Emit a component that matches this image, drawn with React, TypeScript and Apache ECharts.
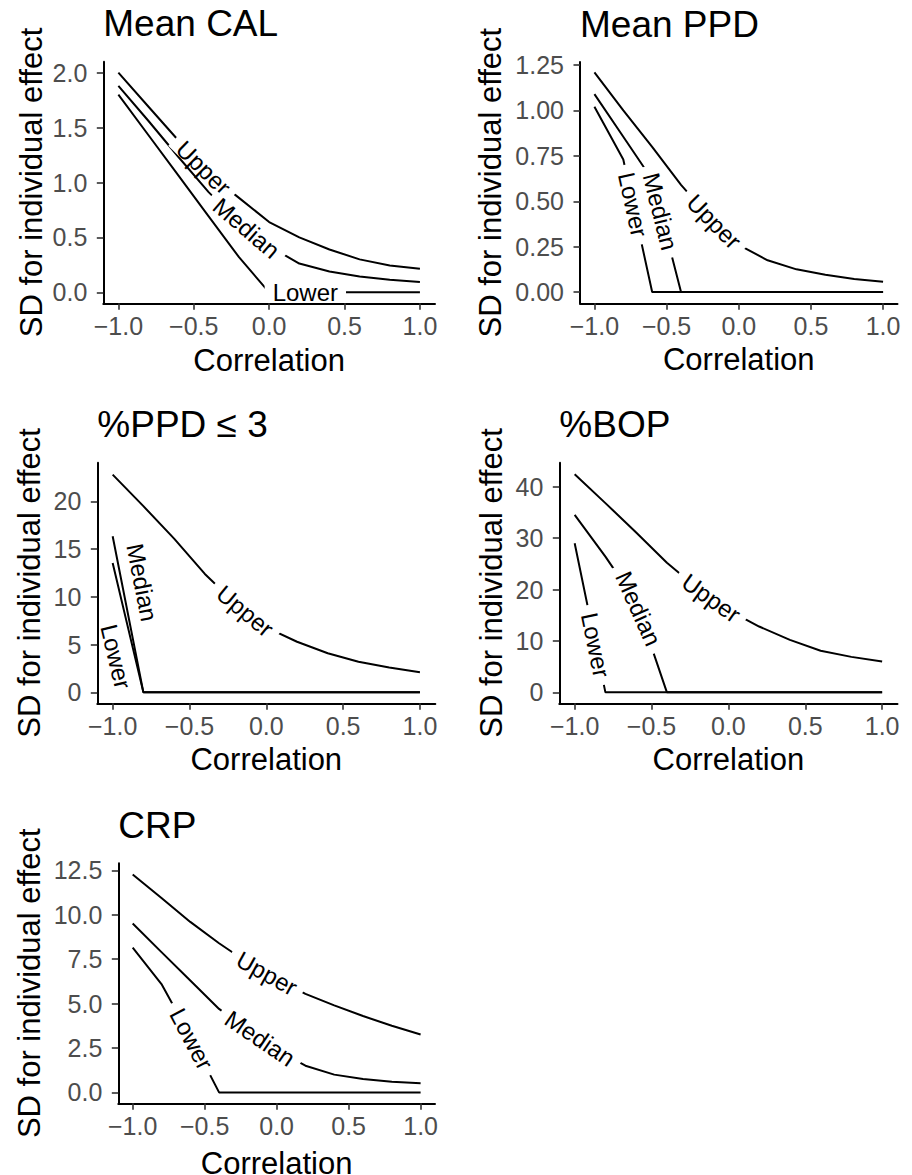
import React, { useEffect, useRef } from "react";
import * as echarts from "echarts";

// ---------- data ----------
const correlation = [-1, -0.8, -0.6, -0.4, -0.2, 0, 0.2, 0.4, 0.6, 0.8, 1];
const xTicks = [-1, -0.5, 0, 0.5, 1];

// Mean CAL
const calUpper = [2.0, 1.69, 1.38, 1.08, 0.86, 0.64, 0.5, 0.39, 0.3, 0.245, 0.215];
const calMedian = [1.88, 1.56, 1.23, 0.91, 0.64, 0.42, 0.262, 0.19, 0.145, 0.115, 0.095];
const calLower = [1.8, 1.43, 1.06, 0.69, 0.32, 0, 0, 0, 0, 0, 0];
const calTicks = [0, 0.5, 1, 1.5, 2];

// Mean PPD
const ppdUpper = [1.21, 1.0, 0.8, 0.59, 0.41, 0.26, 0.175, 0.125, 0.095, 0.072, 0.057];
const ppdMedian = [1.09, 0.855, 0.62, 0, 0, 0, 0, 0, 0, 0, 0];
const ppdLower = [1.02, 0.73, 0, 0, 0, 0, 0, 0, 0, 0, 0];
const ppdTicks = [0, 0.25, 0.5, 0.75, 1, 1.25];

// %PPD <= 3
const p3Upper = [22.8, 19.5, 16.1, 12.4, 9.3, 6.8, 5.3, 4.1, 3.2, 2.6, 2.1];
const p3Median = [16.35, 0, 0, 0, 0, 0, 0, 0, 0, 0, 0];
const p3Lower = [13.55, 0, 0, 0, 0, 0, 0, 0, 0, 0, 0];
const p3Ticks = [0, 5, 10, 15, 20];

// %BOP
const bopUpper = [42.4, 36.8, 31.1, 25.2, 20.2, 16.0, 12.8, 10.2, 8.1, 6.9, 6.0];
const bopMedian = [34.5, 26.4, 17.6, 0, 0, 0, 0, 0, 0, 0, 0];
const bopLower = [29.0, 0, 0, 0, 0, 0, 0, 0, 0, 0, 0];
const bopTicks = [0, 10, 20, 30, 40];

// CRP
const crpUpper = [12.27, 10.95, 9.6, 8.4, 7.3, 6.4, 5.55, 4.9, 4.3, 3.75, 3.26];
const crpMedian = [9.51, 7.9, 6.3, 4.7, 3.5, 2.4, 1.5, 1.0, 0.75, 0.6, 0.52];
const crpLower = [8.15, 6.1, 3.15, 0, 0, 0, 0, 0, 0, 0, 0];
const crpTicks = [0, 2.5, 5, 7.5, 10, 12.5];

const lineNames = ["Upper", "Median", "Lower"];

// ---------- layout ----------
const FONT = "'Liberation Sans', Arial, Helvetica, sans-serif";

type LabelPos = { x: number; offset: number; bg: boolean };
type Panel = {
  title: string;
  lines: number[][];
  yTicks: number[];
  decimals: number;
  yMin: number;
  yMax: number;
  grid: { left: number; top: number; width: number; height: number };
  yTitleX: number;
  xTitleGap: number;
  labels: LabelPos[];
};

const panels: Panel[] = [
  {
    title: "Mean CAL",
    lines: [calUpper, calMedian, calLower],
    yTicks: calTicks,
    decimals: 1,
    yMin: -0.1,
    yMax: 2.1,
    grid: { left: 103.3, top: 61.7, width: 331.7, height: 241.6 },
    yTitleX: 31,
    xTitleGap: 57,
    labels: [
      { x: -0.435, offset: 0, bg: true },
      { x: -0.151, offset: 0, bg: true },
      { x: 0.24, offset: 0, bg: true },
    ],
  },
  {
    title: "Mean PPD",
    lines: [ppdUpper, ppdMedian, ppdLower],
    yTicks: ppdTicks,
    decimals: 2,
    yMin: -0.062,
    yMax: 1.267,
    grid: { left: 580, top: 62, width: 317.5, height: 241.3 },
    yTitleX: 490.5,
    xTitleGap: 56.5,
    labels: [
      { x: -0.171, offset: 0, bg: true },
      { x: -0.543, offset: 0, bg: true },
      { x: -0.732, offset: 0, bg: true },
    ],
  },
  {
    title: "%PPD \u2264 3",
    lines: [p3Upper, p3Median, p3Lower],
    yTicks: p3Ticks,
    decimals: 0,
    yMin: -1.145,
    yMax: 24.05,
    grid: { left: 97.3, top: 462.7, width: 338, height: 240.6 },
    yTitleX: 29.5,
    xTitleGap: 56.5,
    labels: [
      { x: -0.138, offset: 0, bg: true },
      { x: -0.936, offset: 20, bg: false },
      { x: -0.862, offset: -18.4, bg: false },
    ],
  },
  {
    title: "%BOP",
    lines: [bopUpper, bopMedian, bopLower],
    yTicks: bopTicks,
    decimals: 0,
    yMin: -2.13,
    yMax: 44.66,
    grid: { left: 559.3, top: 462.7, width: 338.2, height: 240.6 },
    yTitleX: 491,
    xTitleGap: 56.5,
    labels: [
      { x: -0.112, offset: 0, bg: true },
      { x: -0.585, offset: 0, bg: true },
      { x: -0.8635, offset: 0, bg: true },
    ],
  },
  {
    title: "CRP",
    lines: [crpUpper, crpMedian, crpLower],
    yTicks: crpTicks,
    decimals: 1,
    yMin: -0.615,
    yMax: 12.9,
    grid: { left: 118.3, top: 863.3, width: 316.7, height: 240 },
    yTitleX: 29.5,
    xTitleGap: 60,
    labels: [
      { x: -0.068, offset: 0, bg: true },
      { x: -0.116, offset: 0, bg: true },
      { x: -0.591, offset: 0, bg: true },
    ],
  },
];

const fmt = (v: number, d: number) => {
  const s = Math.abs(v).toFixed(d);
  return v < -1e-9 ? "\u2212" + s : s;
};

const interp = (xs: number[], ys: number[], x: number) => {
  for (let j = 0; j < xs.length - 1; j++) {
    if (x >= xs[j] && x <= xs[j + 1]) {
      const t = (x - xs[j]) / (xs[j + 1] - xs[j]);
      return { j, v: ys[j] + t * (ys[j + 1] - ys[j]) };
    }
  }
  return { j: xs.length - 2, v: ys[ys.length - 1] };
};

export default function App() {
  const ref = useRef<HTMLDivElement>(null);

  useEffect(() => {
    if (!ref.current) return;
    const chart = echarts.init(ref.current, undefined, { renderer: "svg" });

    const grids = panels.map((p) => ({ ...p.grid, containLabel: false }));
    const xAxes = panels.map((p, i) => ({
      type: "value",
      gridIndex: i,
      min: -1.1,
      max: 1.1,
      splitLine: { show: false },
      axisLine: { show: true, onZero: false, lineStyle: { color: "#000", width: 2 } },
      axisTick: {
        show: true,
        inside: false,
        length: 6.5,
        customValues: xTicks,
        lineStyle: { color: "#333", width: 1.6 },
      },
      axisLabel: {
        show: true,
        customValues: xTicks,
        margin: 10.5,
        fontSize: 25,
        lineHeight: 25,
        fontFamily: FONT,
        color: "#4D4D4D",
        formatter: (v: number) => fmt(v, 1),
      },
    }));
    const yAxes = panels.map((p, i) => ({
      type: "value",
      gridIndex: i,
      min: p.yMin,
      max: p.yMax,
      splitLine: { show: false },
      axisLine: { show: true, onZero: false, lineStyle: { color: "#000", width: 2 } },
      axisTick: {
        show: true,
        inside: false,
        length: 6.5,
        customValues: p.yTicks,
        lineStyle: { color: "#333", width: 1.6 },
      },
      axisLabel: {
        show: true,
        customValues: p.yTicks,
        margin: 16,
        fontSize: 25,
        lineHeight: 25,
        fontFamily: FONT,
        color: "#4D4D4D",
        formatter: (v: number) => fmt(v, p.decimals),
      },
    }));
    const series: any[] = [];
    panels.forEach((p, i) => {
      p.lines.forEach((ys, k) => {
        series.push({
          type: "line",
          name: lineNames[k] + i,
          xAxisIndex: i,
          yAxisIndex: i,
          data: correlation.map((c, j) => [c, ys[j]]),
          showSymbol: false,
          symbol: "none",
          silent: true,
          z: 2,
          lineStyle: { color: "#000", width: 2 },
        });
      });
    });

    chart.setOption({
      animation: false,
      backgroundColor: "#fff",
      grid: grids,
      xAxis: xAxes,
      yAxis: yAxes,
      series,
    });

    const elements: any[] = [];
    panels.forEach((p, i) => {
      const g = p.grid;
      // title
      elements.push({
        type: "text",
        x: g.left,
        y: g.top - 37.8,
        silent: true,
        style: {
          text: p.title,
          fontSize: 37,
          fontFamily: FONT,
          fill: "#000",
          align: "left",
          verticalAlign: "middle",
        },
      });
      // x title
      elements.push({
        type: "text",
        x: g.left + g.width / 2,
        y: g.top + g.height + p.xTitleGap,
        silent: true,
        style: {
          text: "Correlation",
          fontSize: 31,
          fontFamily: FONT,
          fill: "#000",
          align: "center",
          verticalAlign: "middle",
        },
      });
      // y title
      elements.push({
        type: "text",
        x: p.yTitleX,
        y: g.top + g.height / 2,
        rotation: Math.PI / 2,
        silent: true,
        style: {
          text: "SD for individual effect",
          fontSize: 31,
          fontFamily: FONT,
          fill: "#000",
          align: "center",
          verticalAlign: "middle",
        },
      });
      // inline line labels
      const finder = { xAxisIndex: i, yAxisIndex: i };
      p.lines.forEach((ys, k) => {
        const lab = p.labels[k];
        const pts = correlation.map((c, j) => chart.convertToPixel(finder, [c, ys[j]]) as number[]);
        const cum = [0];
        for (let j = 1; j < pts.length; j++) {
          cum.push(cum[j - 1] + Math.hypot(pts[j][0] - pts[j - 1][0], pts[j][1] - pts[j - 1][1]));
        }
        const { j, v } = interp(correlation, ys, lab.x);
        const c = chart.convertToPixel(finder, [lab.x, v]) as number[];
        const s0 = cum[j] + Math.hypot(c[0] - pts[j][0], c[1] - pts[j][1]);
        const pointAt = (s: number) => {
          if (s <= 0) return pts[0];
          for (let q = 1; q < pts.length; q++) {
            if (s <= cum[q]) {
              const segLen = cum[q] - cum[q - 1] || 1;
              const t = (s - cum[q - 1]) / segLen;
              return [
                pts[q - 1][0] + t * (pts[q][0] - pts[q - 1][0]),
                pts[q - 1][1] + t * (pts[q][1] - pts[q - 1][1]),
              ];
            }
          }
          return pts[pts.length - 1];
        };
        const h = 24;
        const a = pointAt(s0 - h);
        const b = pointAt(s0 + h);
        let dx = b[0] - a[0];
        let dy = b[1] - a[1];
        const len = Math.hypot(dx, dy) || 1;
        dx /= len;
        dy /= len;
        const up = [dy, -dx];
        elements.push({
          type: "text",
          x: c[0] + lab.offset * up[0],
          y: c[1] + lab.offset * up[1],
          rotation: -Math.atan2(dy, dx),
          z: 100,
          silent: true,
          style: {
            text: lineNames[k],
            fontSize: 24,
            fontFamily: FONT,
            fill: "#000",
            align: "center",
            verticalAlign: "middle",
            lineHeight: 18,
            backgroundColor: lab.bg ? "#fff" : "transparent",
            padding: lab.bg ? [0, 8] : 0,
          },
        });
      });
    });

    chart.setOption({ graphic: { elements } });

    return () => {
      chart.dispose();
    };
  }, []);

  return (
    <div
      ref={ref}
      style={{ position: "absolute", left: 0, top: 0, width: 912, height: 1175, background: "#fff" }}
    />
  );
}
